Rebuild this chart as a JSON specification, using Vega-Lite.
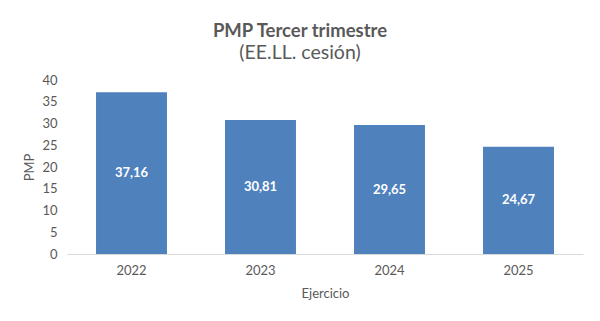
{
  "$schema": "https://vega.github.io/schema/vega-lite/v6.json",
  "autosize": {"type": "none"},
  "width": 516,
  "height": 174,
  "padding": {"left": 67, "top": 80, "right": 17, "bottom": 67},
  "background": "white",
  "config": {"view": {"stroke": null}, "font": "Lato"},
  "title": {
    "text": "PMP Tercer trimestre",
    "subtitle": "(EE.LL. cesión)",
    "anchor": "middle",
    "dx": -25,
    "font": "Lato",
    "fontSize": 18.5,
    "fontWeight": "bold",
    "color": "#595959",
    "subtitleFont": "Lato",
    "subtitleFontSize": 19.5,
    "subtitleColor": "#595959",
    "subtitlePadding": 3,
    "offset": 12
  },
  "data": {
    "values": [
      {"Ejercicio": "2022", "PMP": 37.16, "label": "37,16"},
      {"Ejercicio": "2023", "PMP": 30.81, "label": "30,81"},
      {"Ejercicio": "2024", "PMP": 29.65, "label": "29,65"},
      {"Ejercicio": "2025", "PMP": 24.67, "label": "24,67"}
    ]
  },
  "encoding": {
    "x": {
      "field": "Ejercicio",
      "type": "nominal",
      "scale": {"paddingInner": 0.45, "paddingOuter": 0.225},
      "axis": {
        "labelAngle": 0,
        "ticks": false,
        "domainColor": "#d9d9d9",
        "labelColor": "#595959",
        "labelFontSize": 13,
        "labelPadding": 10,
        "titleColor": "#595959",
        "titleFontSize": 13,
        "titleFontWeight": "normal",
        "titlePadding": 10
      }
    }
  },
  "layer": [
    {
      "mark": {"type": "bar", "color": "#4F81BD"},
      "encoding": {
        "y": {
          "field": "PMP",
          "type": "quantitative",
          "scale": {"domain": [0, 40]},
          "axis": {
            "values": [0, 5, 10, 15, 20, 25, 30, 35, 40],
            "labelOverlap": false,
            "grid": false,
            "domain": false,
            "ticks": false,
            "labelColor": "#595959",
            "labelFontSize": 13,
            "labelPadding": 10,
            "titleColor": "#595959",
            "titleFontSize": 13,
            "titleFontWeight": "normal",
            "titlePadding": 5
          }
        }
      }
    },
    {
      "mark": {"type": "text", "color": "white", "fontWeight": "bold", "fontSize": 13, "baseline": "middle"},
      "encoding": {
        "y": {"field": "PMP", "type": "quantitative", "scale": {"domain": [0, 80]}, "axis": null},
        "text": {"field": "label"}
      }
    }
  ],
  "resolve": {"scale": {"y": "independent"}}
}
